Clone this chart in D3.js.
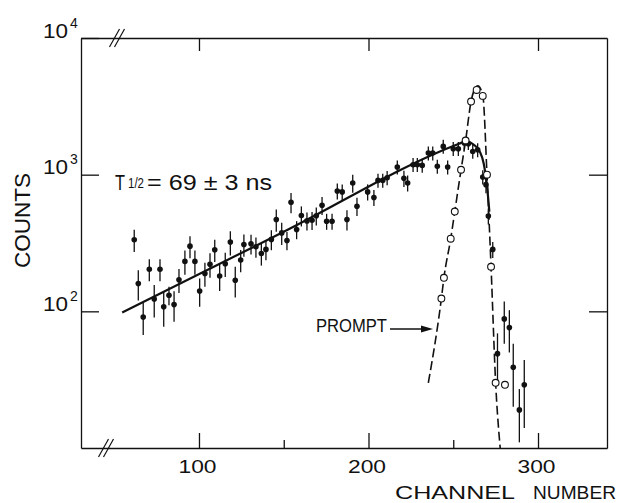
<!DOCTYPE html>
<html><head><meta charset="utf-8">
<script src="https://cdn.jsdelivr.net/npm/d3@7"></script>
<style>
body{margin:0;background:#fff}
svg{display:block}
text{font-family:"Liberation Sans",Arial,sans-serif;fill:#111}
</style>
</head><body>
<svg id="chart" width="618" height="503"></svg>
<script>
// ---- data ----
const decayChannel = [61.8,64.2,67.1,70.7,73.6,77.0,79.2,82.3,85.3,88.2,91.7,94.7,97.6,100.4,103.5,106.5,109.3,112.2,115.5,118.5,121.4,124.6,126.5,
  130.7,133.6,136.8,139.5,142.7,145.6,148.8,151.9,154.3,157.6,160.4,163.7,166.7,169.2,172.6,175.3,178.5,181.6,184.5,187.3,190.7,193.2,199.5,203.2,205.6,208.4,211.0,
  217.0,220.9,223.1,226.3,228.8,231.7,235.3,237.9,240.6,244.1,246.7,250.0,253.0,256.5,258.9,261.5,264.4,267.4,269.3,270.7,273.3,276.1,280.1,283.1,285.4,289.0,291.9];
const decayCounts = [334,160,91,203,123,203,108,131,112,170,232,300,232,141,189,221,282,181,223,321,169,237,308,
  312,297,265,284,336,470,375,330,628,397,502,459,464,500,597,456,456,760,748,470,869,588,748,680,908,908,950,
  1138,940,869,1183,1183,1169,1440,1440,1150,1610,1138,1549,1549,1703,1683,1479,1521,962,845,498,284,49,88,76,39,19,29];
const decaySigma = [62,40,24,37,33,37,31,20,28,34,47,55,47,33,38,45,52,40,45,65,43,44,57,
  52,50,49,48,56,87,69,50,106,60,84,69,70,76,90,61,61,102,101,79,131,89,101,91,107,107,112,
  134,126,117,139,139,138,169,169,135,189,134,182,182,172,170,174,179,113,114,67,38,20,30,26,19,8,15];

const promptChannel = [243.0,244.5,248.5,250.9,254.6,257.3,260.5,263.8,267.4,269.9,272.3,275.0,280.5];
const promptCounts  = [124,176,340,537,1086,1779,3427,4169,3771,1000,212,30,29];

const promptCurveChannel = [235.3,243.0,244.5,248.5,250.9,254.6,257.3,260.5,262.5,264.5,266.5,267.6,269.9,272.3,275.0,277.7];
const promptCurveCounts  = [30,124,176,340,537,1086,1779,3427,4200,4470,4150,3700,1000,212,30,10];

const fitChannel = [54.7,150,253.4,257.5,262,265.5,268,270,271.3];
const fitCounts  = [98,382,1683,1758,1656,1486,1203,803,537];

const xTicks = [100,200,300];
const xMinorTicks = [150,250];
const yTicks = [100,1000,10000];
const yTickExp = ["2","3","4"];
const xTickLabels = ["100","200","300"];

// ---- drawing ----
const svg = d3.select("#chart");
const L = 81, R = 607, T = 38, B = 448;
const x = d3.scaleLinear().domain([30.4,340.7]).range([L,R]);
const y = d3.scaleLog().domain([10,10000]).range([B,T]);

function styleAxis(g){
  g.attr("font-family",null).attr("font-size",null);
  g.selectAll("path.domain").attr("stroke","#111").attr("stroke-width",1.3);
  g.selectAll(".tick line").attr("stroke","#111").attr("stroke-width",1.3);
  g.selectAll(".tick text").remove();
}

// left axis
const gl = svg.append("g").attr("transform",`translate(${L},0)`)
  .call(d3.axisLeft(y).tickValues(yTicks).tickSize(-18).tickSizeOuter(0).tickFormat(()=>""));
styleAxis(gl);
gl.selectAll(".tick").each(function(d,i){
  const t = d3.select(this);
  t.append("text").attr("x",-38).attr("y",-1).attr("font-size",21).attr("text-anchor","start")
    .attr("textLength",25).attr("lengthAdjust","spacingAndGlyphs").text("10");
  t.append("text").attr("x",-11).attr("y",-11).attr("font-size",14).attr("text-anchor","start").text(yTickExp[i]);
});
// right axis
const gr = svg.append("g").attr("transform",`translate(${R},0)`)
  .call(d3.axisRight(y).tickValues([100,1000]).tickSize(-18).tickSizeOuter(0).tickFormat(()=>""));
styleAxis(gr);
// bottom axis
const gb = svg.append("g").attr("transform",`translate(0,${B})`)
  .call(d3.axisBottom(x).tickValues(xTicks).tickSize(-15).tickSizeOuter(0).tickFormat(()=>""));
styleAxis(gb);
gb.selectAll(".tick").each(function(d,i){
  d3.select(this).append("text").attr("x",-2).attr("y",25).attr("font-size",19)
    .attr("text-anchor","middle").attr("textLength",38).attr("lengthAdjust","spacingAndGlyphs")
    .text(xTickLabels[i]);
});
const gbm = svg.append("g").attr("transform",`translate(0,${B})`)
  .call(d3.axisBottom(x).tickValues(xMinorTicks).tickSize(-8).tickSizeOuter(0).tickFormat(()=>""));
styleAxis(gbm); gbm.select("path.domain").remove();
// top axis
const gt = svg.append("g").attr("transform",`translate(0,${T})`)
  .call(d3.axisTop(x).tickValues(xTicks).tickSize(-13).tickSizeOuter(0).tickFormat(()=>""));
styleAxis(gt);

// axis break marks
function brk(cx,cy){
  [-2.5,2.5].forEach(o=>{
    svg.append("line").attr("x1",cx+o-5).attr("y1",cy+9).attr("x2",cx+o+5).attr("y2",cy-9)
      .attr("stroke","#111").attr("stroke-width",1.2);
  });
}
brk(117,T); brk(106,B);

// prompt curve (dashed)
const line = d3.line().x(d=>x(d[0])).y(d=>y(d[1])).curve(d3.curveMonotoneX);
svg.append("path").datum(promptCurveChannel.map((c,i)=>[c,promptCurveCounts[i]]))
  .attr("d",line).attr("fill","none").attr("stroke","#111").attr("stroke-width",1.6)
  .attr("stroke-dasharray","9,4");

// fit curve (solid)
svg.append("path").datum(fitChannel.map((c,i)=>[c,fitCounts[i]]))
  .attr("d",line).attr("fill","none").attr("stroke","#111").attr("stroke-width",2.2);

// error bars + points
const pts = decayChannel.map((c,i)=>({c,v:decayCounts[i],s:decaySigma[i]}));
svg.append("g").selectAll("line").data(pts).join("line")
  .attr("x1",d=>x(d.c)).attr("x2",d=>x(d.c))
  .attr("y1",d=>y(Math.max(10,d.v-d.s))).attr("y2",d=>y(d.v+d.s))
  .attr("stroke","#111").attr("stroke-width",1.3);
svg.append("g").selectAll("circle").data(pts).join("circle")
  .attr("cx",d=>x(d.c)).attr("cy",d=>y(d.v)).attr("r",2.8).attr("fill","#111");

// prompt points (open)
svg.append("g").selectAll("circle").data(promptChannel.map((c,i)=>[c,promptCounts[i]])).join("circle")
  .attr("cx",d=>x(d[0])).attr("cy",d=>y(d[1])).attr("r",3.4)
  .attr("fill","#fff").attr("stroke","#111").attr("stroke-width",1.1);

// labels
svg.append("text").attr("transform","translate(30,220.5) rotate(-90)").attr("text-anchor","middle")
  .attr("font-size",22).attr("textLength",95).attr("lengthAdjust","spacingAndGlyphs").text("COUNTS");
svg.append("text").attr("x",395).attr("y",499).attr("font-size",18)
  .attr("textLength",120).attr("lengthAdjust","spacingAndGlyphs").text("CHANNEL");
svg.append("text").attr("x",533).attr("y",499).attr("font-size",18)
  .attr("textLength",83).attr("lengthAdjust","spacingAndGlyphs").text("NUMBER");

svg.append("text").attr("x",115).attr("y",190).attr("font-size",22)
  .attr("textLength",10).attr("lengthAdjust","spacingAndGlyphs").text("T");
svg.append("text").attr("x",128).attr("y",188).attr("font-size",15)
  .attr("textLength",16).attr("lengthAdjust","spacingAndGlyphs").text("1/2");
svg.append("text").attr("x",147).attr("y",190).attr("font-size",22)
  .attr("textLength",125).attr("lengthAdjust","spacingAndGlyphs").text("= 69 ± 3 ns");

svg.append("text").attr("x",316).attr("y",332).attr("font-size",18)
  .attr("textLength",71).attr("lengthAdjust","spacingAndGlyphs").text("PROMPT");
svg.append("line").attr("x1",390).attr("y1",329).attr("x2",424).attr("y2",329)
  .attr("stroke","#111").attr("stroke-width",1.3);
svg.append("path").attr("d","M421,325.5 L433,329 L421,332.5 Z").attr("fill","#111");
</script>
</body></html>
